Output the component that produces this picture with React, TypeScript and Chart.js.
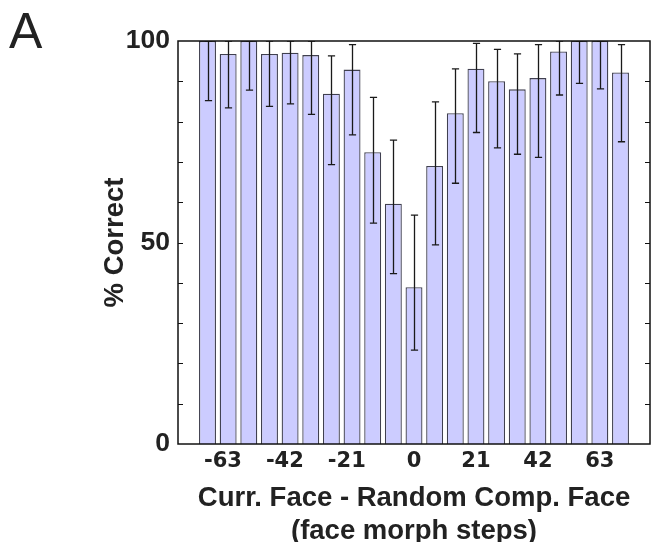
import React, { useEffect, useRef } from "react";
import { Chart, registerables } from "chart.js";

Chart.register(...registerables);

// face morph step differences (bar positions)
const morphSteps = [-70, -63, -56, -49, -42, -35, -28, -21, -14, -7, 0, 7, 14, 21, 28, 35, 42, 49, 56, 63, 70];
// % correct per bar
const pctCorrect = [100, 96.8, 100, 96.8, 97.1, 96.5, 86.9, 92.9, 72.4, 59.6, 38.9, 69.0, 82.1, 93.1, 90.0, 88.0, 90.8, 97.4, 100, 100, 92.2];
// error bar limits
const ciLower = [85.2, 83.4, 87.8, 83.8, 84.4, 81.8, 69.3, 76.7, 54.8, 42.3, 23.3, 49.4, 64.7, 77.3, 73.5, 71.9, 71.1, 86.6, 89.5, 88.1, 75.0];
const ciUpper = [100, 100, 100, 100, 100, 100, 96.3, 99.1, 86.0, 75.4, 56.8, 84.9, 93.1, 99.4, 97.9, 96.8, 99.1, 100, 100, 100, 99.1];
// tick labels
const xTickLabels = [-63, -42, -21, 0, 21, 42, 63];
const yTickLabels = [0, 50, 100];

const TEXT = "#222222";

const framePlugin = {
  id: "framePlugin",
  afterDatasetsDraw(chart: any) {
    const { ctx, chartArea, scales } = chart;
    const y = scales.y;
    const meta = chart.getDatasetMeta(0);
    ctx.save();
    ctx.beginPath();
    ctx.rect(chartArea.left, chartArea.top, chartArea.right - chartArea.left, chartArea.bottom - chartArea.top);
    ctx.clip();
    ctx.strokeStyle = "#1a1a1a";
    ctx.lineWidth = 1.3;
    const cap = 3.6;
    meta.data.forEach((bar: any, i: number) => {
      const x = Math.round(bar.x) + 0.5;
      const yl = y.getPixelForValue(ciLower[i]);
      const yu = y.getPixelForValue(ciUpper[i]);
      ctx.beginPath();
      ctx.moveTo(x, yl);
      ctx.lineTo(x, yu);
      ctx.moveTo(x - cap, yl);
      ctx.lineTo(x + cap, yl);
      ctx.moveTo(x - cap, yu);
      ctx.lineTo(x + cap, yu);
      ctx.stroke();
    });
    ctx.restore();
  },
  afterDraw(chart: any) {
    const { ctx, chartArea, scales } = chart;
    const y = scales.y;
    ctx.save();
    ctx.strokeStyle = "#111";
    ctx.lineWidth = 1.5;
    ctx.strokeRect(chartArea.left, chartArea.top, chartArea.right - chartArea.left, chartArea.bottom - chartArea.top);
    ctx.lineWidth = 1;
    y.ticks.forEach((t: any) => {
      if (t.value <= 0 || t.value >= 100) return;
      const py = Math.round(y.getPixelForValue(t.value)) + 0.5;
      ctx.beginPath();
      ctx.moveTo(chartArea.left, py);
      ctx.lineTo(chartArea.left + 5, py);
      ctx.moveTo(chartArea.right, py);
      ctx.lineTo(chartArea.right - 5, py);
      ctx.stroke();
    });
    ctx.fillStyle = TEXT;
    ctx.font = '50px "Liberation Sans"';
    ctx.textBaseline = "alphabetic";
    ctx.textAlign = "left";
    ctx.fillText("A", 9, 48);
    ctx.restore();
  },
};

export default function App() {
  const ref = useRef<HTMLCanvasElement | null>(null);
  useEffect(() => {
    if (!ref.current) return;
    const chart = new Chart(ref.current, {
      type: "bar",
      data: {
        datasets: [
          {
            data: morphSteps.map((x, i) => ({ x, y: pctCorrect[i] })),
            backgroundColor: "#ccccff",
            borderColor: "#404050",
            borderWidth: 1.3,
            barPercentage: 0.82,
            categoryPercentage: 1,
          },
        ],
      },
      options: {
        animation: false,
        responsive: false,
        devicePixelRatio: 1,
        layout: { padding: { top: 41, right: 1, bottom: 0, left: 0 } },
        plugins: { legend: { display: false }, tooltip: { enabled: false } },
        scales: {
          x: {
            type: "linear",
            min: -80,
            max: 80,
            offset: false,
            grid: { display: false, drawTicks: false, offset: false },
            border: { display: false },
            afterBuildTicks: (s: any) => {
              s.ticks = xTickLabels.map((v) => ({ value: v }));
            },
            ticks: {
              autoSkip: false,
              maxRotation: 0,
              padding: 5,
              color: TEXT,
              font: { family: "DejaVu Sans", weight: "bold", size: 21 },
              // negative labels: digits sit on the tick, minus sign hangs left
              callback: (v: any) => (Number(v) < 0 ? String(v) + "\u2002" : String(v)),
            },
            title: {
              display: true,
              text: ["Curr. Face - Random Comp. Face", "(face morph steps)"],
              color: TEXT,
              font: { family: "Liberation Sans", weight: "bold", size: 27.5, lineHeight: 1.18 },
              padding: { top: 0, bottom: -5.5 },
            },
            afterFit: (s: any) => {
              s.height = 98;
            },
          },
          y: {
            min: 0,
            max: 100,
            grid: { display: false, drawTicks: false },
            border: { display: false },
            ticks: {
              stepSize: 10,
              autoSkip: false,
              padding: 8,
              color: TEXT,
              font: { family: "Liberation Sans", weight: "bold", size: 26.5 },
              callback: (v: any) => (yTickLabels.includes(v) ? String(v) : ""),
            },
            title: {
              display: true,
              text: "% Correct",
              color: TEXT,
              font: { family: "Liberation Sans", weight: "bold", size: 27.5 },
              padding: { top: 99, bottom: 0 },
            },
            afterFit: (s: any) => {
              s.width = 178;
            },
          },
        },
      } as any,
      plugins: [framePlugin],
    });
    return () => chart.destroy();
  }, []);
  return (
    <div style={{ position: "fixed", left: 0, top: 0, width: 651, height: 542, background: "#fff" }}>
      <canvas ref={ref} width={651} height={542} style={{ display: "block", width: 651, height: 542 }} />
    </div>
  );
}
